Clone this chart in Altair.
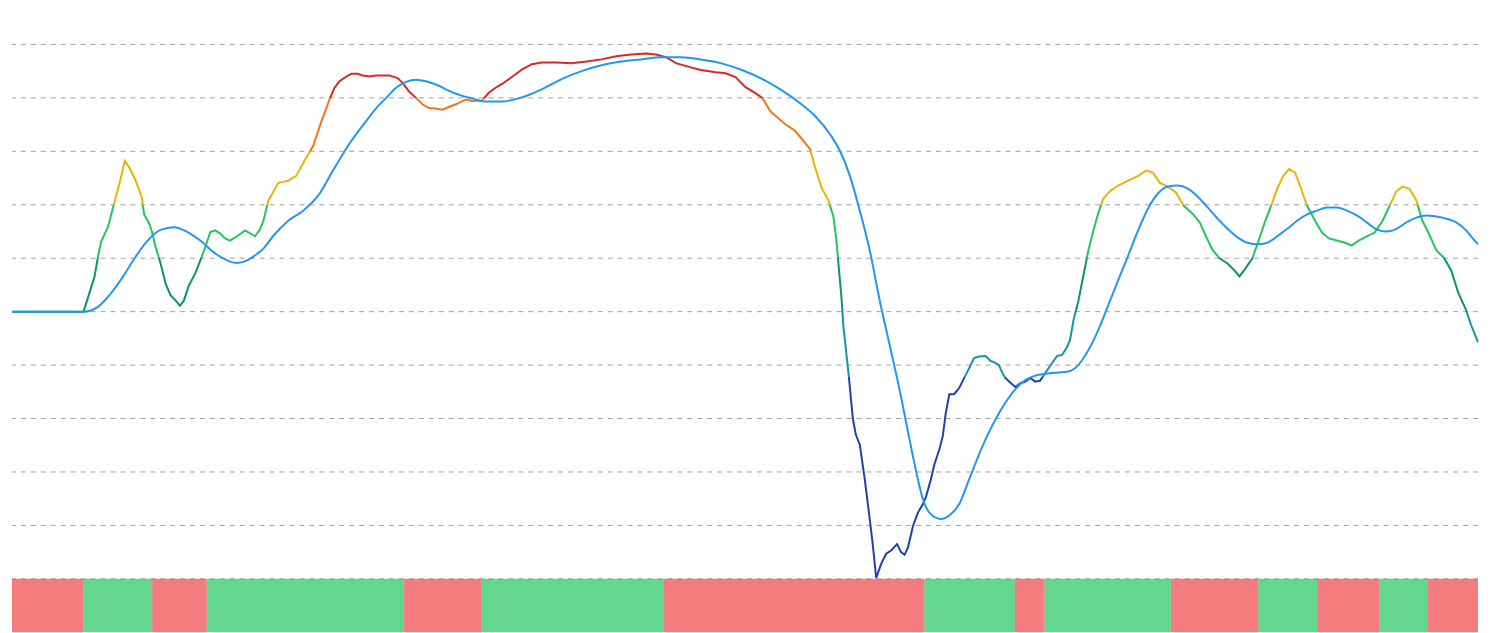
import altair as alt
import pandas as pd

# ---- oscillator (colour-banded line) ----
main_bar = [0.0, 14.4, 16.6, 17.3, 17.9, 19.3, 20.6, 21.6, 22.7, 23.6, 24.9, 26.1, 26.6, 27.6, 28.1,
            28.9, 29.9, 30.9, 31.9, 32.9, 33.8, 34.6, 35.6, 36.9, 37.9, 38.9, 39.9, 40.9, 41.9, 42.9,
            43.9, 45.3, 46.9, 48.9, 49.9, 50.6, 51.6, 53.6, 55.6, 57.2, 58.6, 60.6, 62.3, 63.9, 64.9,
            65.9, 67.3, 68.3, 69.6, 70.6, 71.9, 73.3, 75.9, 77.6, 78.6, 79.9, 81.3, 82.6, 83.9, 85.3,
            86.6, 87.9, 89.3, 91.3, 92.6, 94.6, 95.9, 97.3, 98.6, 100.6, 102.6, 104.6, 106.6, 109.6,
            112.6, 115.6, 118.6, 121.6, 124.6, 127.6, 129.6, 131.6, 133.6, 136.6, 138.6, 141.6, 143.6,
            145.6, 147.6, 149.6, 151.0, 152.6, 155.3, 157.6, 159.3, 160.6, 161.6, 162.9, 164.3, 165.3,
            165.9, 166.3, 166.9, 167.3, 167.6, 168.4, 169.2, 169.8, 170.6, 171.6, 172.6, 173.2, 173.9,
            174.9, 175.9, 176.9, 178.1, 178.9, 179.6, 180.3, 181.3, 182.3, 183.3, 183.9, 184.9, 185.6,
            186.6, 187.3, 187.9, 188.6, 189.6, 190.6, 191.6, 192.6, 193.6, 194.6, 195.9, 196.9, 197.9,
            198.6, 199.3, 199.9, 200.9, 201.9, 202.9, 203.9, 204.9, 205.9, 206.9, 207.9, 209.3, 210.3,
            211.3, 212.3, 212.9, 213.6, 214.6, 215.6, 216.6, 217.6, 218.6, 219.6, 221.0, 222.6, 224.6,
            226.6, 228.2, 229.6, 231.0, 232.6, 234.2, 235.8, 237.6, 239.0, 240.2, 241.6, 243.0, 244.6,
            246.0, 247.0, 248.2, 249.6, 251.0, 252.2, 253.6, 254.6, 255.8, 257.0, 258.2, 259.4, 260.6,
            262.2, 263.6, 265.0, 266.6, 268.2, 269.6, 271.0, 272.6, 274.2, 275.8, 277.2, 278.6, 279.8,
            281.2, 282.6, 283.8, 285.0, 286.6, 288.2, 289.6, 291.0, 292.6, 293.6, 295.0]
main_val = [50.0, 50.0, 56.5, 60.2, 63.0, 65.8, 70.4, 73.9, 78.2, 77.0, 74.5, 71.4, 68.2, 66.5, 65.2,
            62.1, 59.0, 55.3, 53.1, 52.1, 51.1, 52.1, 54.9, 57.2, 59.6, 62.1, 64.9, 65.2, 64.6, 63.7,
            63.3, 64.1, 65.2, 64.1, 65.4, 67.0, 70.8, 74.1, 74.5, 75.4, 77.8, 81.0, 85.7, 89.7, 91.9,
            93.1, 94.0, 94.5, 94.5, 94.2, 94.0, 94.2, 94.2, 93.7, 92.8, 91.2, 90.0, 88.8, 88.1, 88.0,
            87.8, 88.3, 88.8, 89.7, 89.4, 89.5, 90.9, 91.9, 92.6, 93.9, 95.3, 96.3, 96.6, 96.6,
            96.5, 96.8, 97.2, 97.8, 98.1, 98.3, 98.1, 97.6, 96.5, 95.7, 95.2, 94.8, 94.6,
            93.9, 92.0, 90.9, 90.0, 87.5, 85.3, 83.8, 81.9, 80.4, 77.0, 73.2, 70.8, 67.7,
            63.3, 59.0, 52.8, 47.2, 44.7, 37.8, 30.0, 27.0, 25.1, 18.6, 11.2, 6.5, 0.2,
            2.8, 4.7, 5.3, 6.5, 5.0, 4.5, 5.9, 9.9, 12.4, 14.0, 15.3, 18.6, 21.4,
            24.2, 26.7, 31.0, 34.5, 34.6, 35.7, 37.6, 39.4, 41.3, 41.6, 41.7, 40.8, 40.4,
            40.0, 38.5, 37.6, 36.7, 35.9, 36.6, 36.9, 37.6, 36.9, 37.1, 38.5, 40.4, 41.7,
            41.9, 43.4, 44.7, 48.4, 52.1, 56.8, 61.5, 65.2, 68.5, 71.1, 72.6, 73.6, 74.5,
            75.4, 76.4, 76.0, 74.1, 73.4, 72.3, 69.8, 68.3, 66.7, 64.2, 61.5, 60.0, 59.0,
            57.7, 56.6, 58.1, 60.0, 63.7, 67.0, 70.4, 73.0, 75.4, 76.7, 76.0, 73.0, 69.8,
            67.0, 64.8, 63.7, 63.3, 62.9, 62.4, 63.3, 64.1, 64.8, 67.0, 69.8, 72.6, 73.4,
            73.0, 70.8, 67.0, 64.8, 61.5, 60.0, 57.7, 53.6, 50.3, 47.5, 44.3]

# ---- signal line ----
sig_bar = [0.0, 14.4, 17.3, 19.9, 22.3, 24.6, 27.3, 29.9, 32.6, 35.3, 37.9, 40.6, 43.3, 45.3, 47.3,
           49.3, 50.6, 52.6, 55.6, 58.6, 61.6, 64.6, 67.6, 71.3, 73.3, 75.3, 77.3, 79.3, 81.3, 83.3,
           85.3, 87.3, 89.9, 92.6, 95.3, 98.6, 100.6, 102.6, 106.6, 110.6, 114.6, 118.6, 122.6, 126.6,
           130.6, 134.6, 138.6, 142.6, 146.6, 150.6, 154.6, 158.6, 161.6, 164.6, 166.6, 168.6, 170.6,
           172.6, 174.6, 176.6, 178.6, 180.6, 182.3, 183.3, 184.6, 186.9, 188.9, 190.6, 192.6, 194.6,
           195.9, 198.6, 201.3, 203.9, 205.9, 209.3, 212.6, 213.9, 216.6, 218.6, 220.6, 222.6, 224.6,
           226.6, 228.6, 230.6, 232.6, 234.6, 236.6, 238.6, 240.6, 242.6, 244.6, 246.6, 248.6, 250.6,
           252.6, 254.6, 256.6, 258.6, 260.6, 262.6, 264.6, 266.6, 268.6, 270.6, 272.6, 274.6, 276.6,
           278.6, 280.6, 282.6, 284.6, 286.6, 288.6, 290.6, 292.6, 293.6, 295.0]
sig_val = [50.0, 50.0, 50.9, 53.4, 56.5, 59.9, 63.3, 65.3, 65.8, 64.9, 63.3, 61.1, 59.6, 59.1, 59.6,
           60.8, 61.8, 64.2, 67.0, 68.9, 71.7, 76.4, 81.0, 85.7, 88.1, 90.0, 91.9, 93.0, 93.4, 93.1,
           92.5, 91.6, 90.6, 89.9, 89.3, 89.3, 89.6, 90.1, 91.6, 93.5, 95.0, 96.1, 96.8, 97.2,
           97.6, 97.6, 97.2, 96.5, 95.3, 93.7, 91.6, 89.0, 86.6, 83.2, 80.1, 75.4, 68.9,
           61.5, 52.1, 43.8, 35.4, 26.1, 18.6, 14.9, 12.4, 11.2, 12.1, 14.0, 18.6, 23.3,
           26.1, 31.0, 34.8, 37.2, 38.0, 38.5, 38.8, 39.4, 42.8, 46.6, 51.2, 55.9, 60.5,
           65.2, 69.3, 72.1, 73.4, 73.6, 73.0, 71.5, 69.5, 67.4, 65.5, 63.9, 62.9, 62.6,
           62.9, 64.1, 65.5, 67.0, 68.2, 68.9, 69.5, 69.5, 68.9, 68.0, 66.7, 65.4, 65.0,
           65.5, 66.7, 67.6, 68.0, 67.8, 67.4, 66.7, 65.2, 64.1, 62.6]

# ---- bottom state strip ----
band_start = [0.0, 14.4, 28.2, 39.2, 78.8, 94.4, 131.2, 183.6, 201.8, 207.8, 233.2, 250.8, 262.6, 275.2, 284.8]
band_end = [14.4, 28.2, 39.2, 78.8, 94.4, 131.2, 183.6, 201.8, 207.8, 233.2, 250.8, 262.6, 275.2, 284.8, 295.0]
band_state = ["down", "up", "down", "up", "down", "up", "down", "up", "down", "up", "down", "up", "down", "up", "down"]

# horizontal reference levels
grid_levels = [0, 10, 20, 30, 40, 50, 60, 70, 80, 90, 100]

# value zones for line colouring (lower bound of each zone above the first)
zone_limits = [37.7, 50, 60, 70, 80, 90]
zone_colors = ["#1e40af", "#1096aa", "#0b9468", "#22c55e", "#eab308", "#f97316", "#dc2626"]

main_df = pd.DataFrame({"bar": main_bar, "value": main_val})
sig_df = pd.DataFrame({"bar": sig_bar, "value": sig_val})
band_df = pd.DataFrame({"start": band_start, "end": band_end, "state": band_state})
grid_df = pd.DataFrame({"level": grid_levels})

vmin, vmax = min(main_val), max(main_val)


def frac(v):
    return (v - vmin) / (vmax - vmin)


stops = []
for i, col in enumerate(zone_colors):
    lo = 0.0 if i == 0 else frac(zone_limits[i - 1])
    hi = 1.0 if i == len(zone_colors) - 1 else frac(zone_limits[i])
    stops.append(alt.GradientStop(color=col, offset=max(0.0, min(1.0, lo))))
    stops.append(alt.GradientStop(color=col, offset=max(0.0, min(1.0, hi))))

grad = alt.Gradient(gradient="linear", stops=stops, x1=0, x2=0, y1=1, y2=0)

Y_LOW = -10
xscale = alt.Scale(domain=[0, 295.0], nice=False, zero=False)
yscale = alt.Scale(domain=[Y_LOW, 106.5], nice=False, zero=False)

grid = alt.Chart(grid_df).mark_rule(color="#a0a0a0", strokeDash=[5, 5], strokeWidth=1).encode(
    y=alt.Y("level:Q", scale=yscale, axis=None),
)

band = alt.Chart(band_df).mark_rect(opacity=0.7).encode(
    x=alt.X("start:Q", scale=xscale, axis=None),
    x2="end:Q",
    y=alt.datum(0, scale=yscale, axis=None),
    y2=alt.datum(Y_LOW),
    color=alt.Color("state:N", scale=alt.Scale(domain=["down", "up"], range=["#ef4444", "#22c55e"]),
                    legend=None),
)

main_line = alt.Chart(main_df).mark_line(stroke=grad, strokeWidth=2, interpolate="linear").encode(
    x=alt.X("bar:Q", scale=xscale, axis=None),
    y=alt.Y("value:Q", scale=yscale, axis=None),
)

sig_line = alt.Chart(sig_df).mark_line(color="#2196f3", strokeWidth=2, interpolate="monotone").encode(
    x=alt.X("bar:Q", scale=xscale, axis=None),
    y=alt.Y("value:Q", scale=yscale, axis=None),
)

chart = alt.layer(grid, band, main_line, sig_line).properties(
    width=1474, height=626, padding=0
).configure_view(stroke=None)

chart.save("out.html", embed_options={"renderer": "svg", "actions": False})
